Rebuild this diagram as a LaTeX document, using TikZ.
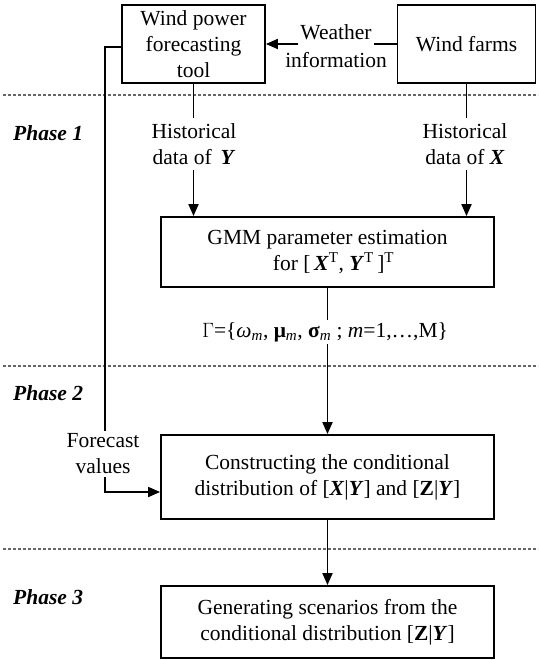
\documentclass[tikz,border=0pt]{standalone}
\usepackage{fontspec}
\setmainfont{Liberation Serif}
\usetikzlibrary{arrows.meta,calc}
\newcommand{\bi}[1]{\textbf{\textit{#1}}}
\begin{document}
\begin{tikzpicture}[x=1pt,y=-1pt,
  font=\fontsize{21.5}{26}\selectfont,
  box/.style={draw, line width=1.8pt, align=center, inner sep=0pt},
  lbl/.style={align=center, inner sep=5pt},
  ln/.style={line width=1.8pt},
  arr/.style={line width=1.8pt, -{Triangle[length=12pt,width=10pt]}},
  phase/.style={anchor=west, inner sep=0pt, font=\fontsize{21.5}{26}\selectfont\bfseries\itshape},
  sepline/.style={dash pattern=on 3pt off 2pt, line width=1.1pt, black!60}]
\useasboundingbox (0,0) rectangle (538,660);

% separators
\draw[sepline] (3,95) -- (538,95);
\draw[sepline] (3,366) -- (538,366);
\draw[sepline] (3,549) -- (538,549);

% phase labels
\node[phase] (p1) at (13,133) {Phase 1};
\node[phase] (p2) at (13,393) {Phase 2};
\node[phase] (p3) at (13,597) {Phase 3};

% boxes
\node[box, minimum width=143pt, minimum height=78pt] (wp) at (193.5,44) {Wind power\\forecasting\\tool};
\node[box, minimum width=138pt, minimum height=78pt] (wf) at (466.5,44) {Wind farms};
\node[box, minimum width=333pt, minimum height=70pt] (gmm) at (327.5,252) {GMM parameter estimation\\\hspace*{12pt}for [\,\bi{X}\textsuperscript{T}, \bi{Y}\textsuperscript{T}\,]\textsuperscript{T}};
\node[box, minimum width=333pt, minimum height=84pt] (cons) at (327.5,477) {Constructing the conditional\\distribution of [\bi{X}|\bi{Y}] and [\textbf{Z}|\bi{Y}]};
\node[box, minimum width=333pt, minimum height=72pt] (gen) at (327.5,622) {Generating scenarios from the\\conditional distribution [\textbf{Z}|\bi{Y}]};

% labels
\node[inner sep=2pt] (ww) at (336,32) {Weather};
\node[inner sep=2pt] (wi) at (336,60) {information};
\node[lbl] (hy) at (194,144) {Historical\\data of \,\bi{Y}};
\node[lbl] (hx) at (465,144) {Historical\\data of \bi{X}};
\node[inner sep=2pt] (gam) at (325,332) {$\Gamma$=\{\textit{ω}\textsubscript{\textit{m}}, \textbf{μ}\textsubscript{\textit{m}}, \textbf{σ}\textsubscript{\textit{m}} ; \textit{m}=1,…,M\}};
\node[lbl, inner sep=3pt] (fc) at (103,454) {Forecast\\values};

% connectors
\draw[ln] (wf.west) -- (ww.east |- wf.west);
\draw[arr] (ww.west |- wp.east) -- (wp.east);
\draw[ln] (wp.south) -- (hy.north -| wp.south);
\draw[arr] (hy.south -| wp.south) -- (gmm.north -| wp.south);
\draw[ln] (wf.south) -- (hx.north -| wf.south);
\draw[arr] (hx.south -| wf.south) -- (gmm.north -| wf.south);
\draw[ln] (gmm.south) -- (gam.north -| gmm.south);
\draw[arr] (gam.south -| gmm.south) -- (cons.north);
\draw[arr] (cons.south) -- (gen.north);
\coordinate (fbx) at (105,0);
\draw[ln] ($(wp.west)+(0,3)$) -| (fbx |- fc.north);
\draw[arr] (fbx |- fc.south) |- ($(cons.west)+(0,15)$);
\end{tikzpicture}
\end{document}
